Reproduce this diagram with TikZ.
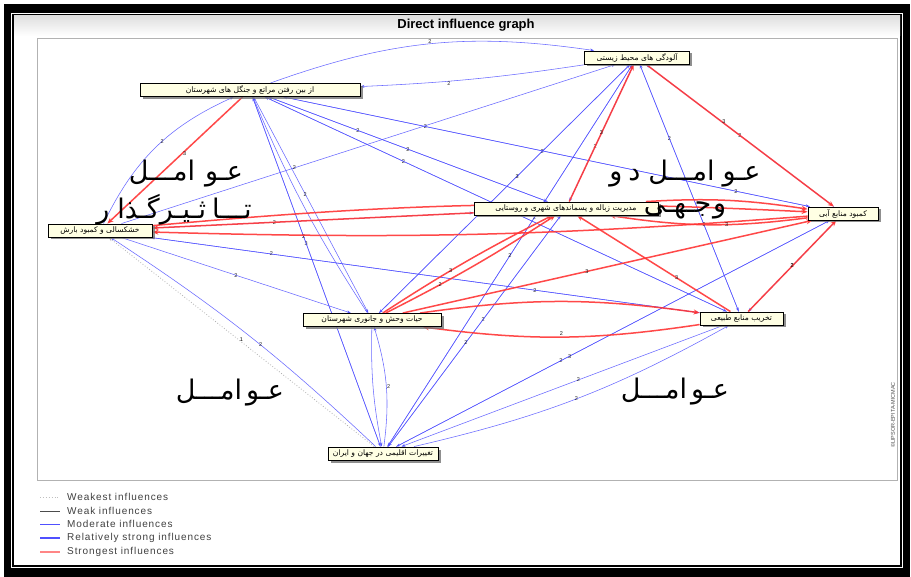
\documentclass[tikz,border=0pt]{standalone}
\usepackage{fontspec}
\setmainfont{Liberation Sans}
\newfontfamily\arabicfont[Script=Arabic]{DejaVu Sans}
\newfontfamily\legendfont[LetterSpace=9]{Liberation Sans}
\TeXXeTstate=1
\usetikzlibrary{arrows.meta,shadows}
\definecolor{edgeblue}{HTML}{5050FF}
\definecolor{edgered}{HTML}{FF3535}
\definecolor{nodefill}{HTML}{FFFFE4}
\pgfdeclarelayer{back}
\pgfdeclarelayer{edges}
\pgfsetlayers{back,edges,main}
\begin{document}
\begin{tikzpicture}[x=1pt,y=-1pt,
 nd/.style={draw=black,line width=0.9pt,fill=nodefill,inner xsep=2pt,inner ysep=1pt,minimum height=13pt,
   font=\arabicfont\fontsize{7.6}{8}\selectfont,
   drop shadow={shadow xshift=2.5pt,shadow yshift=-2.5pt,fill=black!55,opacity=0.8}},
 bl/.style={draw=edgeblue,line width=0.55pt,-{Stealth[length=4pt,width=3pt]},opacity=0.85},
 rd/.style={draw=edgered,line width=1.5pt,-{Stealth[length=6pt,width=5pt]},opacity=0.9},
 wk/.style={draw=gray!60,line width=0.8pt,dotted,-{Stealth[length=4pt,width=3pt]}},
 lbl/.style={font=\fontsize{5.5}{6}\selectfont,text=black,inner sep=0.5pt},
 ann/.style={font=\arabicfont\fontsize{27}{30}\selectfont,text=black,inner sep=0pt},
 lg/.style={font=\legendfont\fontsize{10}{11}\selectfont,text=black!75,anchor=west,inner sep=0pt},
]
\useasboundingbox (0,0) rectangle (911,577);
\begin{pgfonlayer}{back}
\fill[white] (0,0) rectangle (911,577);
\fill[black] (4,4) rectangle (910,577);
\fill[white] (11,13) rectangle (903,568);
\fill[black] (12,14) rectangle (902,567);
\fill[white] (14,16) rectangle (900,565);
\shade[top color=gray!25,bottom color=white] (14,16) rectangle (900,36);
\draw[gray!60,fill=white] (37,38) rectangle (897,480);
\end{pgfonlayer}

\node[font=\bfseries\fontsize{13}{15}\selectfont] (title) at (466,25) {Direct influence graph};

% nodes
\node[nd,minimum width=220pt] (A) at (250,90) {\beginR از بین رفتن مراتع و جنگل های شهرستان\endR};
\node[nd,minimum width=105pt] (B) at (637,57.5) {\beginR آلودگی های محیط زیستی\endR};
\node[nd,minimum width=104pt] (C) at (100,230.5) {\beginR خشکسالی و کمبود بارش\endR};
\node[nd,minimum width=184pt] (D) at (566,208.5) {\beginR مدیریت زباله و پسماندهای شهری و روستایی\endR};
\node[nd,minimum width=70pt] (E) at (843,213.5) {\beginR کمبود منابع آبی\endR};
\node[nd,minimum width=138pt] (F) at (372,320) {\beginR حیات وحش و جانوری شهرستان\endR};
\node[nd,minimum width=83pt] (G) at (741.5,318.5) {\beginR تخریب منابع طبیعی\endR};
\node[nd,minimum width=110pt] (H) at (383,453.5) {\beginR تغییرات اقلیمی در جهان و ایران\endR};

\begin{pgfonlayer}{edges}
% blue
\draw[bl] (A) to[bend left=14] node[lbl,above]{2} (B);
\draw[bl] (B) to[bend left=3] node[lbl,pos=0.62,below]{2} (A);
\draw[bl] (A) to node[lbl,pos=0.32]{2} (D);
\draw[bl] (A) to node[lbl,pos=0.27]{2} (E);
\draw[bl] (A) to node[lbl,pos=0.3]{2} (G);
\draw[bl] (A) to node[lbl,pos=0.45]{2} (F);
\draw[bl] (A) to node[lbl,pos=0.42]{3} (H);
\draw[bl] (C) to[bend left=20] node[lbl,pos=0.55]{2} (A);
\draw[bl] (C) to node[lbl,pos=0.35]{2} (B);
\draw[bl] (C) to node[lbl,pos=0.38]{2} (D);
\draw[bl] (C) to node[lbl,pos=0.22]{2} (G);
\draw[bl] (C) to node[lbl,pos=0.5]{2} (F);
\draw[bl] (H) to[bend right=5] node[lbl,pos=0.45]{2} (C);
\draw[wk] (H) to node[lbl,pos=0.5,above]{1} (C);
\draw[bl] (H) to[bend right=12] node[lbl,pos=0.5,right]{2} (F);
\draw[bl] (F) to[bend right=6] (H);
\draw[bl] (H) to node[lbl,pos=0.55]{2} (D);
\draw[bl] (H) to[bend right=8] node[lbl,pos=0.5]{2} (G);
\draw[bl] (H) to node[lbl,pos=0.38]{2} (E);
\draw[bl] (H) to node[lbl,pos=0.6]{2} (B);
\draw[bl] (H) to node[lbl,pos=0.6]{2} (A);
\draw[bl] (E) to node[lbl,pos=0.5]{2} (G);
\draw[bl] (B) to node[lbl,pos=0.35]{2} (F);
\draw[bl] (B) to node[lbl,pos=0.3]{2} (G);
\draw[bl] (B) to node[lbl,pos=0.5]{2} (H);
\draw[bl] (G) to node[lbl,pos=0.5]{2} (A);
\draw[bl] (G) to node[lbl,pos=0.3]{2} (C);
\draw[bl] (G) to node[lbl,pos=0.35]{2} (B);
\draw[bl] (F) to node[lbl,pos=0.55]{3} (B);
\draw[bl] (F) to[bend left=5] (A);
\draw[bl] (D) to node[lbl,pos=0.55]{2} (H);
\draw[bl] (E) to node[lbl,pos=0.6]{3} (H);
\draw[bl] (E) to node[lbl,pos=0.14]{2} (A);
\draw[bl] (B) to node[lbl,pos=0.6]{2} (D);
\draw[bl] (G) to node[lbl,pos=0.45]{2} (H);
\draw[bl] (E) to node[lbl,pos=0.5]{2} (B);
\draw[bl] (D) to node[lbl,pos=0.5]{2} (A);
% red
\draw[rd] (A) to node[lbl,pos=0.45,right]{3} (C);
\draw[rd] (C) to[bend left=4] (E);
\draw[rd] (E) to[bend left=3] (C);
\draw[rd] (D) to (C);
\draw[rd] (D) to[bend left=6] (E);
\draw[rd] (E) to[bend left=8] node[lbl,pos=0.4]{3} (D);
\draw[rd] (B) to node[lbl,pos=0.4,right]{3} (E);
\draw[rd] (D) to node[lbl,pos=0.5]{3} (B);
\draw[rd] (F) to[bend left=3] node[lbl,pos=0.4]{3} (D);
\draw[rd] (F) to[bend right=3] node[lbl,pos=0.3]{2} (D);
\draw[rd] (F) to[bend left=8] (G);
\draw[rd] (G) to[bend left=8] node[lbl,pos=0.5,above]{2} (F);
\draw[rd] (G) to node[lbl,pos=0.5]{2} (E);
\draw[rd] (G) to node[lbl,pos=0.35]{3} (D);
\draw[rd] (F) to node[lbl,pos=0.45]{3} (E);
\end{pgfonlayer}

% annotations
\node[ann] (t1) at (186,174) {\beginR عـو\hspace{10pt}امـــل\endR};
\node[ann] (t2) at (174,210) {\beginR تـــا\hspace{6pt}ثـیـرگـذا\hspace{8pt}ر\endR};
\node[ann] (t3) at (685,174) {\beginR عـو\hspace{8pt}امـــل\hspace{8pt}د\hspace{6pt}و\endR};
\node[ann] (t4) at (685,210) {\beginR و\hspace{2pt}جـهـی\endR};
\node[ann] (t5) at (230,393) {\beginR عـو\hspace{4pt}امـــل\endR};
\node[ann] (t6) at (675,392) {\beginR عـو\hspace{4pt}امـــل\endR};

\node[font=\fontsize{5.5}{6}\selectfont,text=black!70,rotate=90] (cr) at (893,415) {©LIPSOR-EPITA-MICMAC};

% legend
\coordinate (l1a) at (40,497); \coordinate (l1b) at (60,497);
\coordinate (l2a) at (40,511); \coordinate (l2b) at (60,511);
\coordinate (l3a) at (40,524); \coordinate (l3b) at (60,524);
\coordinate (l4a) at (40,538); \coordinate (l4b) at (60,538);
\coordinate (l5a) at (40,552); \coordinate (l5b) at (60,552);
\draw[gray!50,dotted,line width=0.9pt] (l1a) -- (l1b);
\draw[black!70,line width=0.6pt] (l2a) -- (l2b);
\draw[edgeblue,line width=0.6pt] (l3a) -- (l3b);
\draw[edgeblue,line width=2.4pt] (l4a) -- (l4b);
\draw[edgered!60,line width=2pt] (l5a) -- (l5b);
\node[lg] (lt1) at (67,497) {Weakest influences};
\node[lg] (lt2) at (67,511) {Weak influences};
\node[lg] (lt3) at (67,524) {Moderate influences};
\node[lg] (lt4) at (67,538) {Relatively strong influences};
\node[lg] (lt5) at (67,552) {Strongest influences};
\end{tikzpicture}
\end{document}
